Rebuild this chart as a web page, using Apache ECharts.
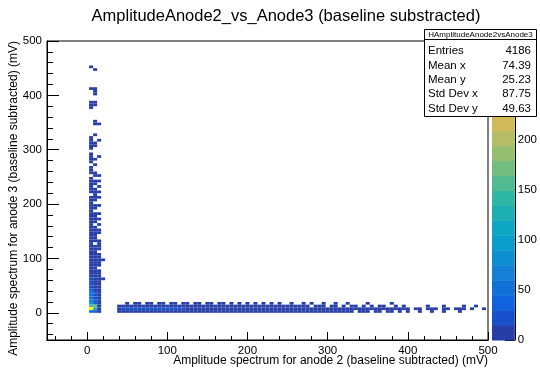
<!DOCTYPE html>
<html>
<head>
<meta charset="utf-8">
<title>AmplitudeAnode2_vs_Anode3</title>
<script src="https://cdn.jsdelivr.net/npm/echarts@6/dist/echarts.min.js"></script>
<style>
  body { margin: 0; background: #fff; }
  #main { width: 540px; height: 368px; }
</style>
</head>
<body>
<div id="main"></div>
<script>
// histogram bin width (mV), both axes
const BIN = 5;

// vertical column near x = 0 : [yLow, count at x=5, x=10, x=15, x=20]
const columnXCenters = [5, 10, 15, 20];
const columnRows = [
  [450, 2, 0, 0, 0], [445, 0, 1, 0, 0],
  [410, 2, 1, 0, 0], [405, 0, 1, 0, 0], [400, 0, 2, 0, 0],
  [385, 2, 1, 0, 0], [380, 3, 2, 0, 0], [375, 1, 0, 0, 0],
  [350, 0, 1, 0, 0], [345, 0, 1, 1, 0], [325, 0, 1, 0, 0],
  [320, 1, 0, 0, 0], [315, 2, 0, 1, 0], [310, 1, 1, 0, 0], [305, 2, 1, 0, 0],
  [300, 1, 0, 0, 0], [290, 1, 0, 0, 0], [285, 2, 0, 1, 0], [280, 1, 1, 0, 0],
  [275, 2, 0, 0, 0], [270, 0, 2, 0, 0], [265, 1, 0, 0, 0], [260, 2, 0, 0, 0],
  [255, 1, 1, 0, 0], [250, 0, 2, 1, 0], [245, 2, 0, 0, 0], [240, 3, 1, 1, 0],
  [235, 1, 2, 0, 0], [230, 2, 0, 1, 0], [225, 3, 1, 0, 0], [220, 2, 2, 1, 0],
  [215, 0, 2, 0, 0], [210, 2, 3, 2, 0], [205, 4, 1, 0, 0], [200, 3, 0, 0, 0],
  [195, 3, 3, 1, 0], [190, 4, 2, 0, 0], [185, 3, 0, 0, 0], [180, 4, 2, 1, 0],
  [175, 3, 4, 0, 0], [170, 4, 3, 2, 0], [165, 5, 2, 0, 0], [160, 4, 0, 1, 0],
  [155, 5, 4, 0, 0], [150, 4, 3, 1, 0], [145, 5, 4, 2, 0], [140, 6, 3, 0, 0],
  [135, 5, 4, 0, 0], [130, 6, 5, 1, 0], [125, 5, 0, 2, 0], [120, 7, 5, 1, 0],
  [115, 6, 4, 2, 0], [110, 7, 6, 0, 0], [105, 8, 5, 2, 0], [100, 7, 6, 1, 0],
  [95, 8, 6, 2, 1], [90, 9, 7, 1, 0], [85, 10, 6, 2, 0], [80, 9, 8, 0, 0],
  [75, 11, 7, 2, 0], [70, 12, 8, 1, 0], [65, 14, 9, 2, 0], [60, 16, 8, 2, 1],
  [55, 18, 10, 3, 0], [50, 22, 11, 2, 0], [45, 26, 12, 3, 0], [40, 34, 13, 2, 0],
  [35, 45, 15, 4, 0], [30, 58, 18, 3, 0], [25, 55, 20, 5, 0], [20, 72, 30, 8, 0],
  [15, 100, 42, 6, 0], [10, 150, 165, 9, 0], [5, 298, 120, 12, 0], [0, 45, 30, 6, 0]
];

// horizontal band near y = 0 : [xCenter, count at y 0-5, 5-10, 10-15, 15-20]
const bandYLows = [0, 5, 10, 15];
const bandRows = [
  [40, 2, 3, 1, 0], [45, 8, 18, 6, 0], [50, 12, 22, 8, 1], [55, 10, 25, 9, 0],
  [60, 14, 28, 7, 2], [65, 11, 24, 10, 1], [70, 13, 26, 8, 0], [75, 12, 22, 9, 2],
  [80, 10, 24, 7, 1], [85, 12, 20, 8, 0], [90, 11, 22, 10, 2], [95, 9, 19, 7, 1],
  [100, 10, 21, 8, 0], [105, 8, 18, 9, 2], [110, 9, 17, 6, 1], [115, 8, 16, 7, 0],
  [120, 7, 15, 6, 2], [125, 8, 14, 5, 1], [130, 7, 13, 6, 0], [135, 6, 14, 5, 2],
  [140, 7, 12, 4, 1], [145, 6, 13, 5, 0], [150, 5, 11, 4, 1], [155, 6, 12, 5, 2],
  [160, 5, 10, 4, 0], [165, 6, 11, 3, 1], [170, 5, 10, 4, 2], [175, 4, 9, 3, 0],
  [180, 5, 10, 4, 1], [185, 4, 8, 3, 0], [190, 5, 9, 3, 2], [195, 4, 8, 2, 0],
  [200, 4, 8, 3, 1], [205, 3, 7, 3, 0], [210, 4, 8, 2, 1], [215, 3, 7, 3, 0],
  [220, 4, 6, 2, 1], [225, 3, 7, 2, 0], [230, 3, 6, 3, 1], [235, 3, 5, 2, 0],
  [240, 2, 6, 2, 1], [245, 3, 5, 1, 0], [250, 2, 5, 2, 0], [255, 2, 4, 1, 1],
  [260, 3, 4, 2, 0], [265, 2, 4, 1, 0], [270, 2, 3, 2, 1], [275, 1, 4, 1, 0],
  [280, 2, 3, 0, 1], [285, 2, 3, 1, 0], [290, 1, 3, 1, 0], [295, 2, 2, 1, 1],
  [300, 1, 3, 0, 0], [305, 2, 2, 1, 0], [310, 1, 3, 1, 1], [315, 1, 2, 0, 0],
  [320, 2, 2, 1, 0], [325, 1, 2, 0, 1], [330, 1, 2, 1, 0], [335, 0, 2, 1, 0],
  [340, 1, 2, 0, 0], [345, 1, 1, 1, 0], [350, 1, 2, 0, 1], [355, 0, 2, 1, 0],
  [360, 1, 1, 0, 0], [365, 1, 2, 1, 0], [370, 0, 1, 1, 0], [375, 1, 2, 0, 0],
  [380, 1, 1, 0, 1], [385, 0, 2, 1, 0], [390, 1, 1, 0, 0], [395, 0, 1, 1, 0],
  [400, 1, 1, 0, 0], [410, 0, 1, 0, 0], [415, 1, 1, 0, 0], [425, 0, 1, 1, 0],
  [430, 1, 1, 0, 0], [435, 0, 1, 0, 0], [445, 1, 1, 1, 0], [450, 0, 1, 0, 0],
  [460, 0, 1, 0, 0], [465, 1, 1, 0, 0], [470, 0, 1, 1, 0], [480, 0, 1, 0, 0],
  [485, 0, 0, 1, 0], [495, 0, 1, 0, 0]
];

// axis ticks / labels
const xMajor = [0, 100, 200, 300, 400, 500];
const xMinor = [-40, -20, 20, 40, 60, 80, 120, 140, 160, 180, 220, 240, 260, 280, 320, 340, 360, 380, 420, 440, 460, 480];
const yMajor = [0, 100, 200, 300, 400, 500];
const yMinor = [-40, -20, 20, 40, 60, 80, 120, 140, 160, 180, 220, 240, 260, 280, 320, 340, 360, 380, 420, 440, 460, 480];
const zTicks = [0, 50, 100, 150, 200, 250];
const Z_MAX = 298;
const N_CONTOURS = 20;

// stats box
const statsTitle = 'HAmplitudeAnode2vsAnode3';
const statNames = ['Entries', 'Mean x', 'Mean y', 'Std Dev x', 'Std Dev y'];
const statValues = ['4186', '74.39', '25.23', '87.75', '49.63'];

// ROOT kBird palette
const birdStops = [0, 0.125, 0.25, 0.375, 0.5, 0.625, 0.75, 0.875, 1];
const birdR = [0.2082, 0.0592, 0.0780, 0.0232, 0.1802, 0.5301, 0.8186, 0.9956, 0.9764];
const birdG = [0.1664, 0.3599, 0.5041, 0.6419, 0.7178, 0.7492, 0.7328, 0.7862, 0.9832];
const birdB = [0.5293, 0.8684, 0.8385, 0.7914, 0.6425, 0.4662, 0.3499, 0.1968, 0.0539];

function birdColor(f) {
  let k = 0;
  while (k < birdStops.length - 2 && f > birdStops[k + 1]) k++;
  const t = (f - birdStops[k]) / (birdStops[k + 1] - birdStops[k]);
  const c = (a) => Math.round(255 * (a[k] + (a[k + 1] - a[k]) * t));
  return 'rgb(' + c(birdR) + ',' + c(birdG) + ',' + c(birdB) + ')';
}

// one color per contour band, like THistPainter
const bandColors = [];
for (let i = 0; i < N_CONTOURS; i++) {
  const idx = Math.floor((i + 0.99) * 255 / N_CONTOURS);
  bandColors.push(birdColor(idx / 254));
}
const step = Z_MAX / N_CONTOURS;
const pieces = bandColors.map((col, i) => ({
  gte: i * step, lt: i === N_CONTOURS - 1 ? Z_MAX + 1 : (i + 1) * step, color: col
}));
const paletteData = bandColors.map((col, i) => [i * step, (i + 1) * step, i]);

// cells: [xLow, yLow, count]
const cells = [];
columnRows.forEach(r => {
  columnXCenters.forEach((xc, j) => {
    if (r[j + 1] > 0) cells.push([xc - BIN / 2, r[0], r[j + 1]]);
  });
});
bandRows.forEach(r => {
  bandYLows.forEach((yl, j) => {
    if (r[j + 1] > 0) cells.push([r[0] - BIN / 2, yl, r[j + 1]]);
  });
});

const FONT = 'Liberation Sans, Arial, Helvetica, sans-serif';

const chart = echarts.init(document.getElementById('main'), null, { renderer: 'canvas' });

const statsElems = [
  { type: 'rect', z: 100, shape: { x: 424.5, y: 29.5, width: 112, height: 87 },
    style: { fill: '#fff', stroke: '#000', lineWidth: 1 } },
  { type: 'line', z: 101, shape: { x1: 424.5, y1: 39.5, x2: 536.5, y2: 39.5 },
    style: { stroke: '#000', lineWidth: 1 } },
  { type: 'text', z: 101, x: 480.5, y: 34.8,
    style: { text: statsTitle, font: '8px ' + FONT, fill: '#000', align: 'center', verticalAlign: 'middle' } }
];
statNames.forEach((n, i) => {
  statsElems.push({ type: 'text', z: 101, x: 428, y: 51 + i * 14.4,
    style: { text: n, font: '11.5px ' + FONT, fill: '#000', align: 'left', verticalAlign: 'middle' } });
  statsElems.push({ type: 'text', z: 101, x: 531, y: 51 + i * 14.4,
    style: { text: statValues[i], font: '11.5px ' + FONT, fill: '#000', align: 'right', verticalAlign: 'middle' } });
});

// minor tick axis: same scale, ticks only
function minorAxis(ticks, len) {
  return {
    gridIndex: 0, type: 'value', min: -50, max: 500,
    axisLine: { show: true, onZero: false, lineStyle: { color: '#000', width: 1 } },
    axisTick: { show: true, inside: true, length: len, customValues: ticks, lineStyle: { color: '#000' } },
    axisLabel: { show: false }, splitLine: { show: false }
  };
}

const option = {
  animation: false,
  backgroundColor: '#fff',
  title: {
    text: 'AmplitudeAnode2_vs_Anode3 (baseline substracted)',
    left: 281, top: 3, textAlign: 'center',
    textStyle: { fontFamily: FONT, fontSize: 16.5, fontWeight: 'normal', color: '#000' }
  },
  grid: [
    { left: 47, right: 52, top: 41, bottom: 28, show: true, borderColor: '#000', borderWidth: 1, backgroundColor: 'transparent' },
    { left: 492, width: 25, top: 41, bottom: 28 }
  ],
  xAxis: [
    { gridIndex: 0, type: 'value', min: -50, max: 500, position: 'bottom',
      axisLine: { show: true, onZero: false, lineStyle: { color: '#000', width: 1 } },
      axisTick: { show: true, inside: true, length: 8, customValues: xMajor, lineStyle: { color: '#000' } },
      axisLabel: { customValues: xMajor, color: '#000', fontSize: 11.5, fontFamily: FONT, margin: 5 },
      splitLine: { show: false } },
    Object.assign(minorAxis(xMinor, 4), { position: 'bottom' }),
    { gridIndex: 1, type: 'value', min: 0, max: 1, show: false }
  ],
  yAxis: [
    { gridIndex: 0, type: 'value', min: -50, max: 500, position: 'left',
      axisLine: { show: true, onZero: false, lineStyle: { color: '#000', width: 1 } },
      axisTick: { show: true, inside: true, length: 12, customValues: yMajor, lineStyle: { color: '#000' } },
      axisLabel: { customValues: yMajor, color: '#000', fontSize: 11.5, fontFamily: FONT, margin: 5 },
      splitLine: { show: false } },
    Object.assign(minorAxis(yMinor, 6), { position: 'left' }),
    { gridIndex: 1, type: 'value', min: 0, max: Z_MAX, position: 'right',
      axisLine: { show: true, onZero: false, lineStyle: { color: '#000', width: 1 } },
      axisTick: { show: true, inside: true, length: 10, customValues: zTicks, lineStyle: { color: '#000' } },
      axisLabel: { customValues: zTicks, color: '#000', fontSize: 11.5, fontFamily: FONT, margin: 3 },
      splitLine: { show: false } }
  ],
  visualMap: {
    type: 'piecewise', show: false, seriesIndex: 0, dimension: 2, pieces: pieces
  },
  series: [
    {
      type: 'custom', xAxisIndex: 0, yAxisIndex: 0,
      data: cells, encode: { x: 0, y: 1 }, clip: true,
      renderItem: function (params, api) {
        const x0 = api.value(0), y0 = api.value(1);
        const p0 = api.coord([x0, y0 + BIN]);
        const p1 = api.coord([x0 + BIN, y0]);
        return { type: 'rect',
          shape: { x: p0[0], y: p0[1], width: p1[0] - p0[0], height: p1[1] - p0[1] },
          style: { fill: api.visual('color') } };
      }
    },
    {
      type: 'custom', xAxisIndex: 2, yAxisIndex: 2, z: 1,
      data: paletteData, encode: { y: [0, 1] },
      renderItem: function (params, api) {
        const p0 = api.coord([0, api.value(1)]);
        const p1 = api.coord([1, api.value(0)]);
        return { type: 'rect',
          shape: { x: p0[0], y: p0[1], width: p1[0] - p0[0], height: p1[1] - p0[1] + 0.5 },
          style: { fill: bandColors[api.value(2)] } };
      }
    }
  ],
  graphic: [
    { type: 'text', x: 488, y: 361, z: 50,
      style: { text: 'Amplitude spectrum for anode 2 (baseline subtracted) (mV)', font: '12px ' + FONT,
        fill: '#000', align: 'right', verticalAlign: 'middle' } },
    { type: 'text', x: 14, y: 41, rotation: Math.PI / 2, z: 50,
      style: { text: 'Amplitude spectrum for anode 3 (baseline subtracted) (mV)', font: '12px ' + FONT,
        fill: '#000', align: 'right', verticalAlign: 'middle' } },
    { type: 'group', z: 100, children: statsElems }
  ]
};

chart.setOption(option);
</script>
</body>
</html>
